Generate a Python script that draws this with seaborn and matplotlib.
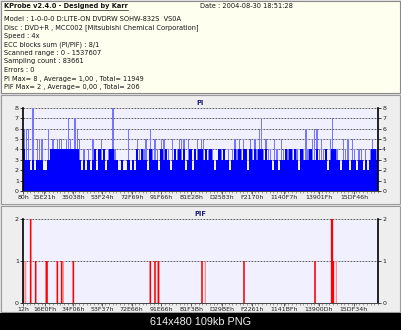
import matplotlib
matplotlib.use("Agg")
import numpy as np
import matplotlib.pyplot as plt
from matplotlib.patches import Rectangle
from matplotlib.lines import Line2D
from matplotlib.ticker import FixedLocator, MultipleLocator
import seaborn as sns

# ---------------- data ----------------
SCAN_END = 1537607

header_title = "KProbe v2.4.0 - Designed by Karr"
header_date = "Date : 2004-08-30 18:51:28"
header_lines = [
    "Model : 1-0-0-0 D:LITE-ON DVDRW SOHW-832S  VS0A",
    "Disc : DVD+R , MCC002 [Mitsubishi Chemical Corporation]",
    "Speed : 4x",
    "ECC blocks sum (PI/PIF) : 8/1",
    "Scanned range : 0 - 1537607",
    "Sampling count : 83661",
    "Errors : 0",
    "PI Max= 8 , Average= 1,00 , Total= 11949",
    "PIF Max= 2 , Average= 0,00 , Total= 206",
]
footer_text = "614x480 109kb PNG"

# PI errors: highest sample in each of 160 consecutive sample groups
pi_peak = [6, 6, 6, 2, 8, 2, 5, 5, 5, 2, 2, 6, 4, 5, 4, 5, 5, 5, 4, 5,
           7, 5, 4, 7, 6, 5, 2, 4, 2, 4, 2, 5, 4, 2, 4, 5, 4, 2, 4, 4,
           8, 4, 3, 2, 3, 2, 2, 6, 2, 3, 2, 5, 4, 4, 4, 5, 2, 6, 4, 5,
           4, 2, 5, 5, 4, 4, 2, 5, 4, 4, 5, 5, 5, 2, 5, 4, 2, 4, 5, 4,
           5, 5, 4, 4, 4, 4, 2, 3, 4, 4, 4, 3, 4, 2, 4, 5, 4, 5, 4, 5,
           4, 2, 5, 4, 5, 4, 6, 7, 4, 5, 4, 4, 2, 5, 4, 2, 5, 4, 4, 4,
           4, 4, 4, 4, 2, 4, 4, 6, 4, 4, 5, 6, 6, 4, 5, 4, 4, 2, 5, 7,
           4, 4, 3, 2, 5, 4, 5, 2, 5, 4, 2, 4, 4, 2, 4, 2, 4, 5, 4, 4]
# PI errors: level reached by most samples of each group
pi_fill = [4, 3, 3, 2, 3, 2, 3, 3, 3, 2, 2, 3, 4, 4, 4, 4, 4, 4, 4, 4,
           4, 4, 4, 4, 4, 3, 2, 3, 2, 3, 2, 3, 4, 2, 4, 3, 4, 2, 3, 4,
           4, 3, 3, 2, 3, 2, 2, 3, 2, 3, 2, 4, 3, 4, 3, 3, 2, 4, 3, 3,
           3, 2, 4, 3, 4, 3, 2, 3, 4, 3, 4, 3, 4, 2, 3, 4, 2, 4, 3, 4,
           4, 3, 4, 3, 4, 3, 2, 3, 4, 3, 4, 3, 3, 2, 3, 4, 3, 4, 3, 4,
           4, 2, 4, 3, 4, 3, 4, 4, 3, 4, 3, 3, 2, 3, 3, 2, 3, 3, 4, 3,
           4, 3, 4, 3, 2, 4, 3, 3, 3, 4, 3, 3, 4, 3, 3, 3, 4, 2, 3, 4,
           4, 3, 3, 2, 3, 3, 3, 2, 3, 3, 2, 3, 3, 2, 3, 2, 3, 4, 4, 3]
pi_tick_labels = ["80h", "15E21h", "35038h", "53F24h", "72F69h", "91F66h",
                  "B1E28h", "D2583h", "F2170h", "1140F7h", "13901Fh", "15DF46h"]

# PIF errors (sector address, count); "faint" marks single isolated hits
pif_pos = [33207, 54863, 101064, 103952, 148709, 167478, 218009, 551524,
           571737, 586174, 775309, 957223, 1264750, 1336939, 1339800, 1344158]
pif_val = [2, 1, 1, 1, 1, 1, 1, 1, 1, 1, 1, 1, 1, 2, 2, 1]
pif_faint_pos = [4331, 11550, 174697, 589062, 789747, 1357152]
pif_faint_val = [1, 1, 1, 1, 1, 1]
pif_tick_labels = ["12h", "16E0Fh", "34F06h", "53F37h", "72E66h", "91E66h",
                   "B1F3Bh", "D29BEh", "F2261h", "1141BFh", "13900Dh", "15DF34h"]

# ---------------- figure ----------------
W, H = 402, 330
sns.set_theme(style="white")
plt.rcParams["font.family"] = ["DejaVu Sans"]

fig = plt.figure(figsize=(W / 100, H / 100), dpi=100, facecolor="#E2E2E2")


def px_rect(x0, y0, x1, y1, **kw):
    fig.patches.append(Rectangle((x0 / W, 1 - y1 / H), (x1 - x0) / W, (y1 - y0) / H,
                                 transform=fig.transFigure, figure=fig,
                                 zorder=-10, **kw))


# window panels
px_rect(1, 1, 400.5, 93, facecolor="#FFFFF0", edgecolor="#8A8A8A", linewidth=0.8)
px_rect(1, 95, 400.5, 204, facecolor="#EEEEEE", edgecolor="#9A9A9A", linewidth=0.8)
px_rect(1, 206, 400.5, 312, facecolor="#EEEEEE", edgecolor="#9A9A9A", linewidth=0.8)
px_rect(0, 313, W, H, facecolor="#000000", edgecolor="none")

# header text
txt_kw = dict(fontsize=4.8, color="#141414", va="center", ha="left")
t_title = fig.text(4 / W, 1 - 6 / H, header_title, fontweight="bold", **txt_kw)
fig.text(200 / W, 1 - 6 / H, header_date, **txt_kw)
for i, line in enumerate(header_lines):
    fig.text(4 / W, 1 - (19 + 8.5 * i) / H, line, **txt_kw)

fig.text(0.5, 1 - 322 / H, footer_text, color="#F0F0F0", fontsize=7.8,
         family=["Liberation Sans", "DejaVu Sans"], ha="center", va="center")


def style_axes(ax, ymax, tick_labels, snap_bars=True):
    ax.set_facecolor("#F0F0FF")
    ax.set_xlim(0, SCAN_END)
    ax.set_ylim(0, ymax)
    ax.set_xlabel("")
    ax.set_ylabel("")
    ax.set_yticks(range(0, ymax + 1))
    ax.set_yticklabels([str(v) for v in range(0, ymax + 1)])
    ticks = [int(lbl[:-1], 16) for lbl in tick_labels]
    ax.xaxis.set_major_locator(FixedLocator(ticks))
    ax.set_xticklabels(tick_labels)
    ax.xaxis.set_minor_locator(MultipleLocator(SCAN_END / 95))
    ax.grid(False)
    ax.yaxis.grid(True, linestyle=(0, (2.2, 1.4)), color="#4A4A4A", linewidth=0.6)
    ax.xaxis.grid(False, which="both")
    ax.set_axisbelow(True)
    ax.tick_params(axis="y", which="both", left=True, right=True,
                   labelleft=True, labelright=True, length=2, width=0.6,
                   pad=1, labelsize=4.5, colors="#222222", direction="out")
    ax.tick_params(axis="x", which="major", bottom=True, length=2, width=0.5,
                   pad=1.2, labelsize=4.5, colors="#222222", direction="out")
    ax.tick_params(axis="x", which="minor", bottom=True, length=1.2, width=0.4,
                   color="#555555", direction="out")
    for side in ("left", "right"):
        ax.spines[side].set_color("#000000")
        ax.spines[side].set_linewidth(1.2)
    ax.spines["top"].set_visible(False)
    ax.spines["bottom"].set_color("#444444")
    ax.spines["bottom"].set_linewidth(0.7)
    if ax.get_legend() is not None:
        ax.get_legend().remove()
    if not snap_bars:
        # isolated hairline bars: keep their sub-pixel width
        for p in ax.patches:
            p.set_snap(False)


# ---------------- PI ----------------
ax1 = fig.add_axes([23 / W, 1 - 191 / H, 355 / W, 83 / H])
n_bins = len(pi_peak)
pi_x = (np.arange(n_bins) + 0.5) * SCAN_END / n_bins
sns.barplot(x=pi_x, y=pi_peak, native_scale=True, orient="x", width=0.6,
            color="#7676FF", saturation=1, linewidth=0, edgecolor="none",
            errorbar=None, ax=ax1)
sns.barplot(x=pi_x, y=pi_fill, native_scale=True, orient="x", width=1.06,
            color="#0000FF", saturation=1, linewidth=0, edgecolor="none",
            errorbar=None, ax=ax1)
style_axes(ax1, 8, pi_tick_labels, snap_bars=True)
fig.text(200 / W, 1 - 103 / H, "PI", fontsize=4.8, fontweight="bold",
         color="#1A1A70", ha="center", va="center")

# ---------------- PIF ----------------
ax2 = fig.add_axes([23 / W, 1 - 303 / H, 355 / W, 84 / H])
px_units = SCAN_END / 355
faint_gap = np.min(np.diff(sorted(pif_faint_pos)))
sns.barplot(x=pif_faint_pos, y=pif_faint_val, native_scale=True, orient="x",
            width=1.2 * px_units / faint_gap, color="#FF8A8A", saturation=1,
            linewidth=0, edgecolor="none", errorbar=None, ax=ax2)
strong_gap = np.min(np.diff(sorted(pif_pos)))
sns.barplot(x=pif_pos, y=pif_val, native_scale=True, orient="x",
            width=1.6 * px_units / strong_gap, color="#FF0000", saturation=1,
            linewidth=0, edgecolor="none", errorbar=None, ax=ax2)
style_axes(ax2, 2, pif_tick_labels, snap_bars=False)
fig.text(200 / W, 1 - 214 / H, "PIF", fontsize=4.8, fontweight="bold",
         color="#1A1A70", ha="center", va="center")

# underline for the program title
fig.canvas.draw()
bb = t_title.get_window_extent().transformed(fig.transFigure.inverted())
fig.add_artist(Line2D([bb.x0, bb.x1], [bb.y0 - 0.002, bb.y0 - 0.002],
                      transform=fig.transFigure, color="#1E1E1E", linewidth=0.5))

fig.savefig("out.png", dpi=100, facecolor=fig.get_facecolor())
